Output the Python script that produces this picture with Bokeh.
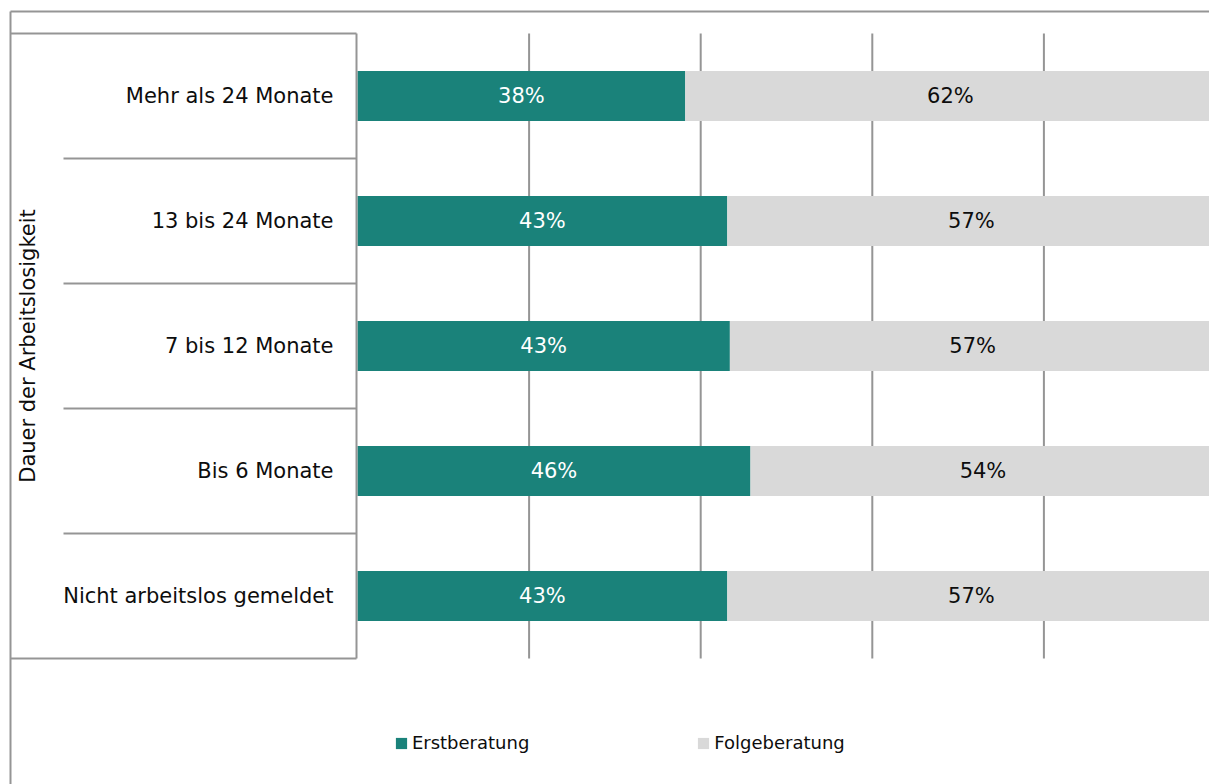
import math
from bokeh.plotting import figure
from bokeh.models import Range1d, Legend, LegendItem, ColumnDataSource
from bokeh.core.properties import value
from bokeh.embed import file_html
from bokeh.resources import INLINE

# ---- data (bottom to top) ----
categories = ["Nicht arbeitslos gemeldet", "Bis 6 Monate", "7 bis 12 Monate",
              "13 bis 24 Monate", "Mehr als 24 Monate"]
erst = [43.1, 45.8, 43.4, 43.1, 38.2]
folge = [56.9, 54.2, 56.6, 56.9, 61.8]
erst_labels = ["43%", "46%", "43%", "43%", "38%"]
folge_labels = ["57%", "54%", "57%", "57%", "62%"]
series_names = ["Erstberatung", "Folgeberatung"]
axis_title = "Dauer der Arbeitslosigkeit"
grid_ticks = [20, 40, 60, 80]

TEAL = "#1a827a"
GREY = "#d9d9d9"
LINE = "#959595"
TXT = "#0d0d0d"
FONT = "DejaVu Sans"

# ---- layout geometry (pixels of the picture) ----
W, H = 1209, 784
PX_PER_PCT = 8.58         # 100 % = 858 px
PX_PER_ROW = 125
ORIGIN_X = 357            # x of 0 %
BOTTOM_Y = 658            # y of bottom of the category area
N = len(categories)


def xd(px):
    return (px - ORIGIN_X) / PX_PER_PCT


def yd(py):
    return (BOTTOM_Y - py) / PX_PER_ROW


x_range = Range1d(xd(0), xd(W))
y_range = Range1d(yd(H), yd(0))

p = figure(width=W, height=H, x_range=x_range, y_range=y_range,
           output_backend="svg", toolbar_location=None,
           x_axis_location=None, y_axis_location=None,
           min_border=0, min_border_left=0, min_border_right=0,
           min_border_top=0, min_border_bottom=0)
p.outline_line_color = None
p.background_fill_color = "white"
p.border_fill_color = "white"
p.xgrid.visible = False
p.ygrid.visible = False

ypos = [i + 0.5 for i in range(N)]
src = ColumnDataSource(dict(
    y=ypos, cat=categories, erst=erst,
    folge_right=[e + f for e, f in zip(erst, folge)],
    erst_mid=[e / 2 for e in erst],
    folge_mid=[e + f / 2 for e, f in zip(erst, folge)],
    erst_lab=erst_labels, folge_lab=folge_labels,
))

# vertical gridlines (behind bars)
p.segment(x0=grid_ticks, y0=[0] * len(grid_ticks), x1=grid_ticks, y1=[N] * len(grid_ticks),
          line_color=LINE, line_width=2)

r1 = p.hbar(y="y", left=0, right="erst", height=0.4, source=src,
            fill_color=TEAL, line_color=None)
r2 = p.hbar(y="y", left="erst", right="folge_right", height=0.4, source=src,
            fill_color=GREY, line_color=None)

p.text(x="erst_mid", y="y", text="erst_lab", source=src, text_align="center",
       text_baseline="middle", text_font=value(FONT), text_font_size="21px",
       text_color="white")
p.text(x="folge_mid", y="y", text="folge_lab", source=src, text_align="center",
       text_baseline="middle", text_font=value(FONT), text_font_size="21px",
       text_color=TXT)

# category axis: labels, axis line, category separators, label box
p.text(x=xd(333), y="y", text="cat", source=src, text_align="right",
       text_baseline="middle", text_font=value(FONT), text_font_size="21px",
       text_color=TXT)
box_l = xd(10)
p.segment(x0=[xd(356)], y0=[0], x1=[xd(356)], y1=[N], line_color=LINE, line_width=2)
sep = list(range(1, N))
p.segment(x0=[xd(63)] * len(sep), y0=sep, x1=[xd(356)] * len(sep), y1=sep,
          line_color=LINE, line_width=2)
p.segment(x0=[box_l, box_l], y0=[0, N], x1=[xd(356), xd(356)], y1=[0, N],
          line_color=LINE, line_width=2)
# outer chart border (left and top edges visible)
p.segment(x0=[box_l, box_l], y0=[yd(11), yd(11)], x1=[box_l, xd(1300)], y1=[yd(900), yd(11)],
          line_color=LINE, line_width=2)

# axis title
p.text(x=[xd(27)], y=[N / 2], text=[axis_title], angle=math.pi / 2,
       text_align="center", text_baseline="middle", text_font=value(FONT),
       text_font_size="21px", text_color=TXT)

legend = Legend(items=[LegendItem(label=series_names[0], renderers=[r1]),
                       LegendItem(label=series_names[1], renderers=[r2])],
                orientation="horizontal", location=(393.9, H - 753),
                glyph_width=14, glyph_height=14, label_height=14, label_width=20,
                label_standoff=4, spacing=167, padding=0, margin=0,
                border_line_color=None, background_fill_alpha=0,
                label_text_font=FONT, label_text_font_size="18px",
                label_text_color=TXT)
p.add_layout(legend)

open("out.html", "w").write(file_html(p, INLINE))
